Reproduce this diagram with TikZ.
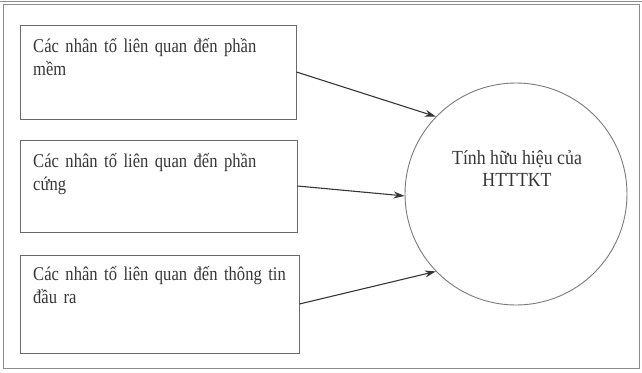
\documentclass[tikz,border=0pt]{standalone}
\usepackage{fontspec}
\setmainfont{Liberation Serif}[FakeStretch=0.89]
\newfontfamily\boxfont{Liberation Serif}[FakeStretch=0.85]
\usetikzlibrary{arrows.meta}
\definecolor{ink}{HTML}{363636}
\definecolor{edge}{HTML}{6A6A6A}
\definecolor{ring}{HTML}{7A7A7A}
\definecolor{rule}{HTML}{8C8C8C}
\tikzset{
  factor/.style={draw=edge, line width=0.9pt, rectangle, inner sep=0pt},
  label/.style={text=ink, font=\boxfont\fontsize{19.5}{23}\selectfont, inner sep=0pt,
                text width=254pt, align=left, anchor=base west},
  goal/.style={draw=ring, line width=0.9pt, circle, inner sep=0pt, minimum size=222pt},
  link/.style={draw=ink, line width=1.1pt, -{Stealth[length=11pt,width=7pt]}},
}
% a justified first line spread over the full text width
\newcommand{\fullline}[1]{\makebox[254pt][s]{#1}}
\begin{document}
\begin{tikzpicture}[x=1pt,y=-1pt]
\useasboundingbox (0,0) rectangle (642,372);
% outer frame
\draw[rule, line width=1pt] (3,4) -- (3,368) -- (639,368) -- (639,4);
\draw[rule, line width=1.2pt] (0,1.2) -- (642,1.2);
\draw[rule, line width=1pt] (3,4.2) -- (639,4.2);

% factor boxes
\node[factor, minimum width=276pt, minimum height=94pt] (b1) at (158,72) {};
\node[factor, minimum width=277pt, minimum height=92pt] (b2) at (158.5,186) {};
\node[factor, minimum width=279pt, minimum height=98pt] (b3) at (159.5,304) {};

\node[label] (t1) at (33,52) {\fullline{Các nhân tố liên quan đến phần}\\mềm};
\node[label] (t2) at (33,167) {\fullline{Các nhân tố liên quan đến phần}\\cứng};
\node[label] (t3) at (33,280) {\fullline{Các nhân tố liên quan đến thông tin}\\đầu ra};

% outcome
\node[goal] (c) at (516,194) {};
\node[text=ink, font=\fontsize{20}{22}\selectfont, align=center, anchor=base, inner sep=0pt]
  (tc) at (517,186) {Tính hữu hiệu của\\HTTTKT};

% connectors
\draw[link] (b1.east) -- (c.136);
\draw[link] (b2.east) -- (c.181);
\draw[link] (b3.east) -- (c.224);
\end{tikzpicture}
\end{document}
